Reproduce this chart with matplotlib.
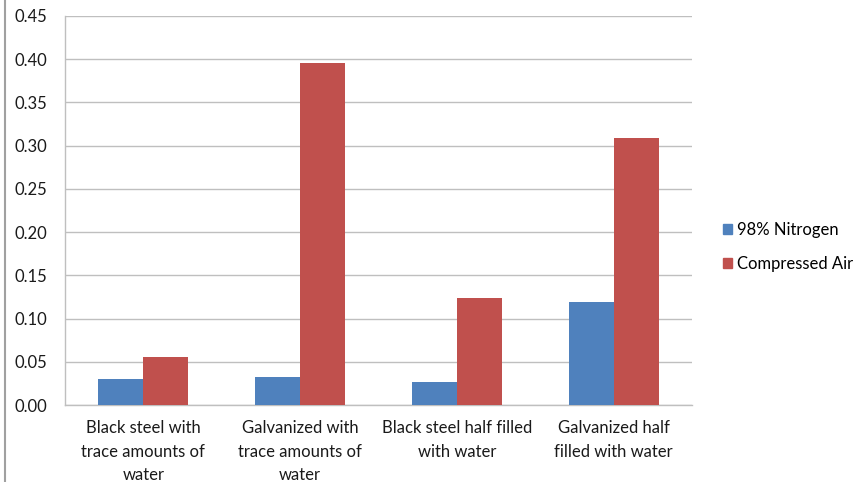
import numpy as np
import matplotlib.pyplot as plt
from matplotlib.lines import Line2D
from matplotlib.patches import Patch

# Corrosion results by sample and gas
categories = ["Black steel with\ntrace amounts of\nwater",
              "Galvanized with\ntrace amounts of\nwater",
              "Black steel half filled\nwith water",
              "Galvanized half\nfilled with water"]
nitrogen = [0.030, 0.032, 0.027, 0.119]
air = [0.055, 0.396, 0.124, 0.309]
series_names = ["98% Nitrogen", "Compressed Air"]
yticks = [0.00, 0.05, 0.10, 0.15, 0.20, 0.25, 0.30, 0.35, 0.40, 0.45]

blue = "#4F81BD"
red = "#C0504D"
grid_col = "#BFBFBF"

plt.rcParams['font.family'] = ['Lato', 'DejaVu Sans']

fig = plt.figure(figsize=(8.61, 4.82), dpi=100)
ax = fig.add_axes([65 / 861, 77 / 482, (692 - 65) / 861, (405 - 16) / 482])

x = np.arange(len(categories))
w = 0.287
ax.bar(x - w / 2, nitrogen, w, color=blue, label=series_names[0], zorder=3)
ax.bar(x + w / 2, air, w, color=red, label=series_names[1], zorder=3)

ax.set_xlim(-0.5, len(categories) - 0.5)
ax.set_ylim(0, 0.45)
ax.set_yticks(yticks)
ax.set_yticklabels([f"{v:.2f}" for v in yticks], fontsize=12, color="#1a1a1a")
ax.set_xticks(x)
ax.set_xticklabels(categories, fontsize=12, color="#1a1a1a", linespacing=1.58,
                   va="top")
ax.tick_params(axis="both", length=0)
ax.tick_params(axis="y", pad=13)
ax.tick_params(axis="x", pad=11)

ax.grid(axis="y", color=grid_col, linewidth=1, zorder=0)
for s in ["top", "right"]:
    ax.spines[s].set_visible(False)
for s in ["left", "bottom"]:
    ax.spines[s].set_color(grid_col)
    ax.spines[s].set_linewidth(1)

handles = [Patch(color=blue), Patch(color=red)]
fig.legend(handles, series_names, loc="center left",
           bbox_to_anchor=(708 / 861, 1 - 247 / 482), frameon=False,
           handlelength=0.55, handleheight=0.55,
           handletextpad=0.3, labelspacing=1.1, prop={'size': 12})

# thin border at the left edge of the figure
fig.add_artist(Line2D([5 / 861, 5 / 861], [0, 1], color="#A0A0A0",
                      linewidth=1.5, transform=fig.transFigure))

fig.savefig("out.png", dpi=100)
